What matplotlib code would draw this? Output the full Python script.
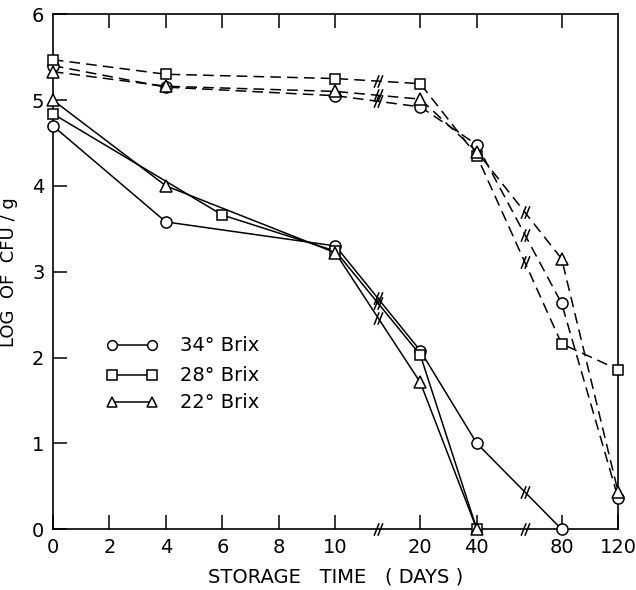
import numpy as np
import matplotlib
matplotlib.use("Agg")
import matplotlib.pyplot as plt
from matplotlib.path import Path

# storage time (days) and log CFU/g
# solid lines
days_34 = [0, 4, 10, 20, 40, 80]
log_34 = [4.70, 3.58, 3.30, 2.08, 1.00, 0.0]
days_28 = [0, 6, 10, 20, 40]
log_28 = [4.84, 3.66, 3.24, 2.03, 0.0]
days_22 = [0, 4, 10, 20, 40]
log_22 = [5.00, 4.00, 3.22, 1.71, 0.0]

# dashed lines
days_d = [0, 4, 10, 20, 40, 80, 120]
log_34d = [5.40, 5.15, 5.05, 4.92, 4.48, 2.63, 0.36]
log_28d = [5.47, 5.30, 5.25, 5.19, 4.35, 2.16, 1.86]
log_22d = [5.33, 5.16, 5.10, 5.01, 4.40, 3.15, 0.43]

tick_days = [0, 2, 4, 6, 8, 10, 20, 40, 80, 120]
labels = ["34° Brix", "28° Brix", "22° Brix"]

# broken time axis: days -> position on the plot
brk_days = [0, 10, 20, 40, 80, 120]
brk_pos = [0, 10, 13, 15, 18, 20]
def pos(d):
  return np.interp(d, brk_days, brk_pos)

break_x = [11.5, 16.7]

slash = Path([(-0.7, -1), (0.1, 1), (-0.1, -1), (0.7, 1)],
             [Path.MOVETO, Path.LINETO, Path.MOVETO, Path.LINETO])

msize = {"o": 8, "s": 7, "^": 8}

fig = plt.figure(figsize=(6.36, 5.9), dpi=100)
ax = fig.add_axes([0.083, 0.103, 0.889, 0.873])

def draw(days, vals, marker, ls):
  p = pos(days)
  ax.plot(p, vals, color="black", lw=1.1, ls=ls, marker=marker,
          ms=msize[marker], mfc="white", mec="black", mew=1.1,
          clip_on=False, zorder=3,
          dashes=(7, 4) if ls == "--" else (None, None))
  # break marks where the line crosses an axis break
  for b in break_x:
    if p[0] < b < p[-1]:
      yb = np.interp(b, p, vals)
      ax.plot(b, yb, marker=slash, ms=9, color="black", mew=1.1, ls="none",
              zorder=4)

draw(days_34, log_34, "o", "-")
draw(days_28, log_28, "s", "-")
draw(days_22, log_22, "^", "-")
draw(days_d, log_34d, "o", "--")
draw(days_d, log_28d, "s", "--")
draw(days_d, log_22d, "^", "--")

ax.set_xlim(0, 20)
ax.set_ylim(0, 6)
ax.set_xticks(pos(tick_days))
ax.set_xticklabels([str(t) for t in tick_days])
ax.set_yticks(range(7))
ax.tick_params(direction="in", length=10, width=1.1, labelsize=14,
               top=True, right=True, pad=6)
for s in ax.spines.values():
  s.set_linewidth(1.2)

# hide end ticks on top / right that sit at the corners
for t in ax.xaxis.get_major_ticks():
  if t.get_loc() in (0, 20):
    t.tick2line.set_visible(False)
for t in ax.yaxis.get_major_ticks():
  if t.get_loc() in (0, 6):
    t.tick2line.set_visible(False)

# axis break marks on the time axis
for b in break_x:
  ax.plot(b, 0, marker=slash, ms=9, color="black", mew=1.1, clip_on=False,
          zorder=5)

ax.set_xlabel("STORAGE   TIME   ( DAYS )", fontsize=14, labelpad=8)
ax.set_ylabel("LOG  OF  CFU / g", fontsize=13, labelpad=10)

# hand drawn legend
leg_y = [0.357, 0.299, 0.247]
for m, lab, y in zip(["o", "s", "^"], labels, leg_y):
  ax.plot([0.104, 0.175], [y, y], transform=ax.transAxes, color="black",
          lw=1.1, marker=m, ms=7, mfc="white", mec="black", mew=1.1)
  ax.text(0.225, y, lab, transform=ax.transAxes, fontsize=14, va="center")

fig.savefig("out.png", dpi=100)
